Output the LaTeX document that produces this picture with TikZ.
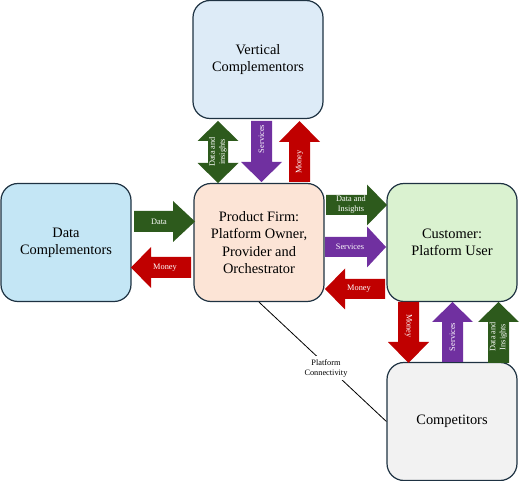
\documentclass[tikz,border=0pt]{standalone}
\usepackage{fontspec}
\setmainfont{Liberation Serif}
\definecolor{bordc}{RGB}{30,50,66}
\definecolor{fvert}{RGB}{221,235,247}
\definecolor{fdata}{RGB}{196,230,245}
\definecolor{fprod}{RGB}{252,228,214}
\definecolor{fcust}{RGB}{218,242,208}
\definecolor{fcomp}{RGB}{242,242,242}
\definecolor{agreen}{RGB}{45,90,28}
\definecolor{apurple}{RGB}{112,48,160}
\definecolor{ared}{RGB}{192,0,0}
\tikzset{
  box/.style={draw=bordc, line width=1.2pt, rounded corners=17pt, minimum width=130pt, minimum height=118pt, inner sep=0pt, align=center, font=\fontsize{14.4}{17.3}\selectfont},
  albl/.style={text=white, align=center, inner sep=0pt, font=\fontsize{8.3}{10}\selectfont},
  clbl/.style={fill=white, align=center, inner sep=3pt, font=\fontsize{8.3}{10}\selectfont}
}
\begin{document}
\begin{tikzpicture}[x=1pt,y=-1pt]
\useasboundingbox (0,0) rectangle (520,481);
% boxes
\node[box, fill=fvert] (vert) at (258,59.5) {Vertical\\Complementors};
\node[box, fill=fdata] (data) at (66,242.5) {Data\\Complementors};
\node[box, fill=fprod] (prod) at (259,242.5) {Product Firm:\\Platform Owner,\\Provider and\\Orchestrator};
\node[box, fill=fcust] (cust) at (452,242.5) {Customer:\\Platform User};
\node[box, fill=fcomp] (comp) at (452,421.5) {Competitors};
% connectivity line
\draw[line width=0.8pt] (prod.south) -- (comp.west);
\node[clbl] (conn) at (326,368) {Platform\\Connectivity};
% top arrows
\fill[agreen] (218,121) -- (238.5,141) -- (228,141) -- (228,163) -- (238.5,163) -- (218,183) -- (197.5,163) -- (208,163) -- (208,141) -- (197.5,141) -- cycle;
\node[albl, rotate=90] (tdi) at (218,152) {Data and\\insights};
\fill[apurple] (251,121) -- (272,121) -- (272,162) -- (282,162) -- (261.5,182) -- (241,162) -- (251,162) -- cycle;
\node[albl, rotate=90] (tsv) at (261.5,139) {Services};
\fill[ared] (299.5,121) -- (320,142) -- (310,142) -- (310,182) -- (289,182) -- (289,142) -- (279,142) -- cycle;
\node[albl, rotate=90] (tmo) at (299.5,162) {Money};
% left arrows
\fill[agreen] (134,211) -- (173,211) -- (173,201) -- (195,221.5) -- (173,242) -- (173,232) -- (134,232) -- cycle;
\node[albl] (ldt) at (159,221.5) {Data};
\fill[ared] (191,257) -- (151,257) -- (151,247) -- (131,267.5) -- (151,288) -- (151,278) -- (191,278) -- cycle;
\node[albl] (lmo) at (165,268) {Money};
% right arrows
\fill[agreen] (326,195) -- (367,195) -- (367,184.5) -- (387,205) -- (367,225.5) -- (367,215) -- (326,215) -- cycle;
\node[albl] (rdi) at (351,205) {Data and\\Insights};
\fill[apurple] (325,237) -- (367,237) -- (367,226.5) -- (386,247) -- (367,267.5) -- (367,257) -- (325,257) -- cycle;
\node[albl] (rsv) at (350,247) {Services};
\fill[ared] (385,279) -- (345,279) -- (345,268.5) -- (325,289) -- (345,309.5) -- (345,299) -- (385,299) -- cycle;
\node[albl] (rmo) at (359,289) {Money};
% bottom arrows
\fill[ared] (398,302) -- (419,302) -- (419,342) -- (429,342) -- (408.5,363) -- (388,342) -- (398,342) -- cycle;
\node[albl, rotate=-90] (bmo) at (408.5,326) {Money};
\fill[apurple] (452.5,302) -- (473,322) -- (463,322) -- (463,362) -- (442,362) -- (442,322) -- (432,322) -- cycle;
\node[albl, rotate=90] (bsv) at (452.5,337) {Services};
\fill[agreen] (498.5,302) -- (519,322) -- (509,322) -- (509,363) -- (488,363) -- (488,322) -- (478,322) -- cycle;
\node[albl, rotate=90] (bdi) at (498.5,337) {Data and\\Insights};
\end{tikzpicture}
\end{document}
